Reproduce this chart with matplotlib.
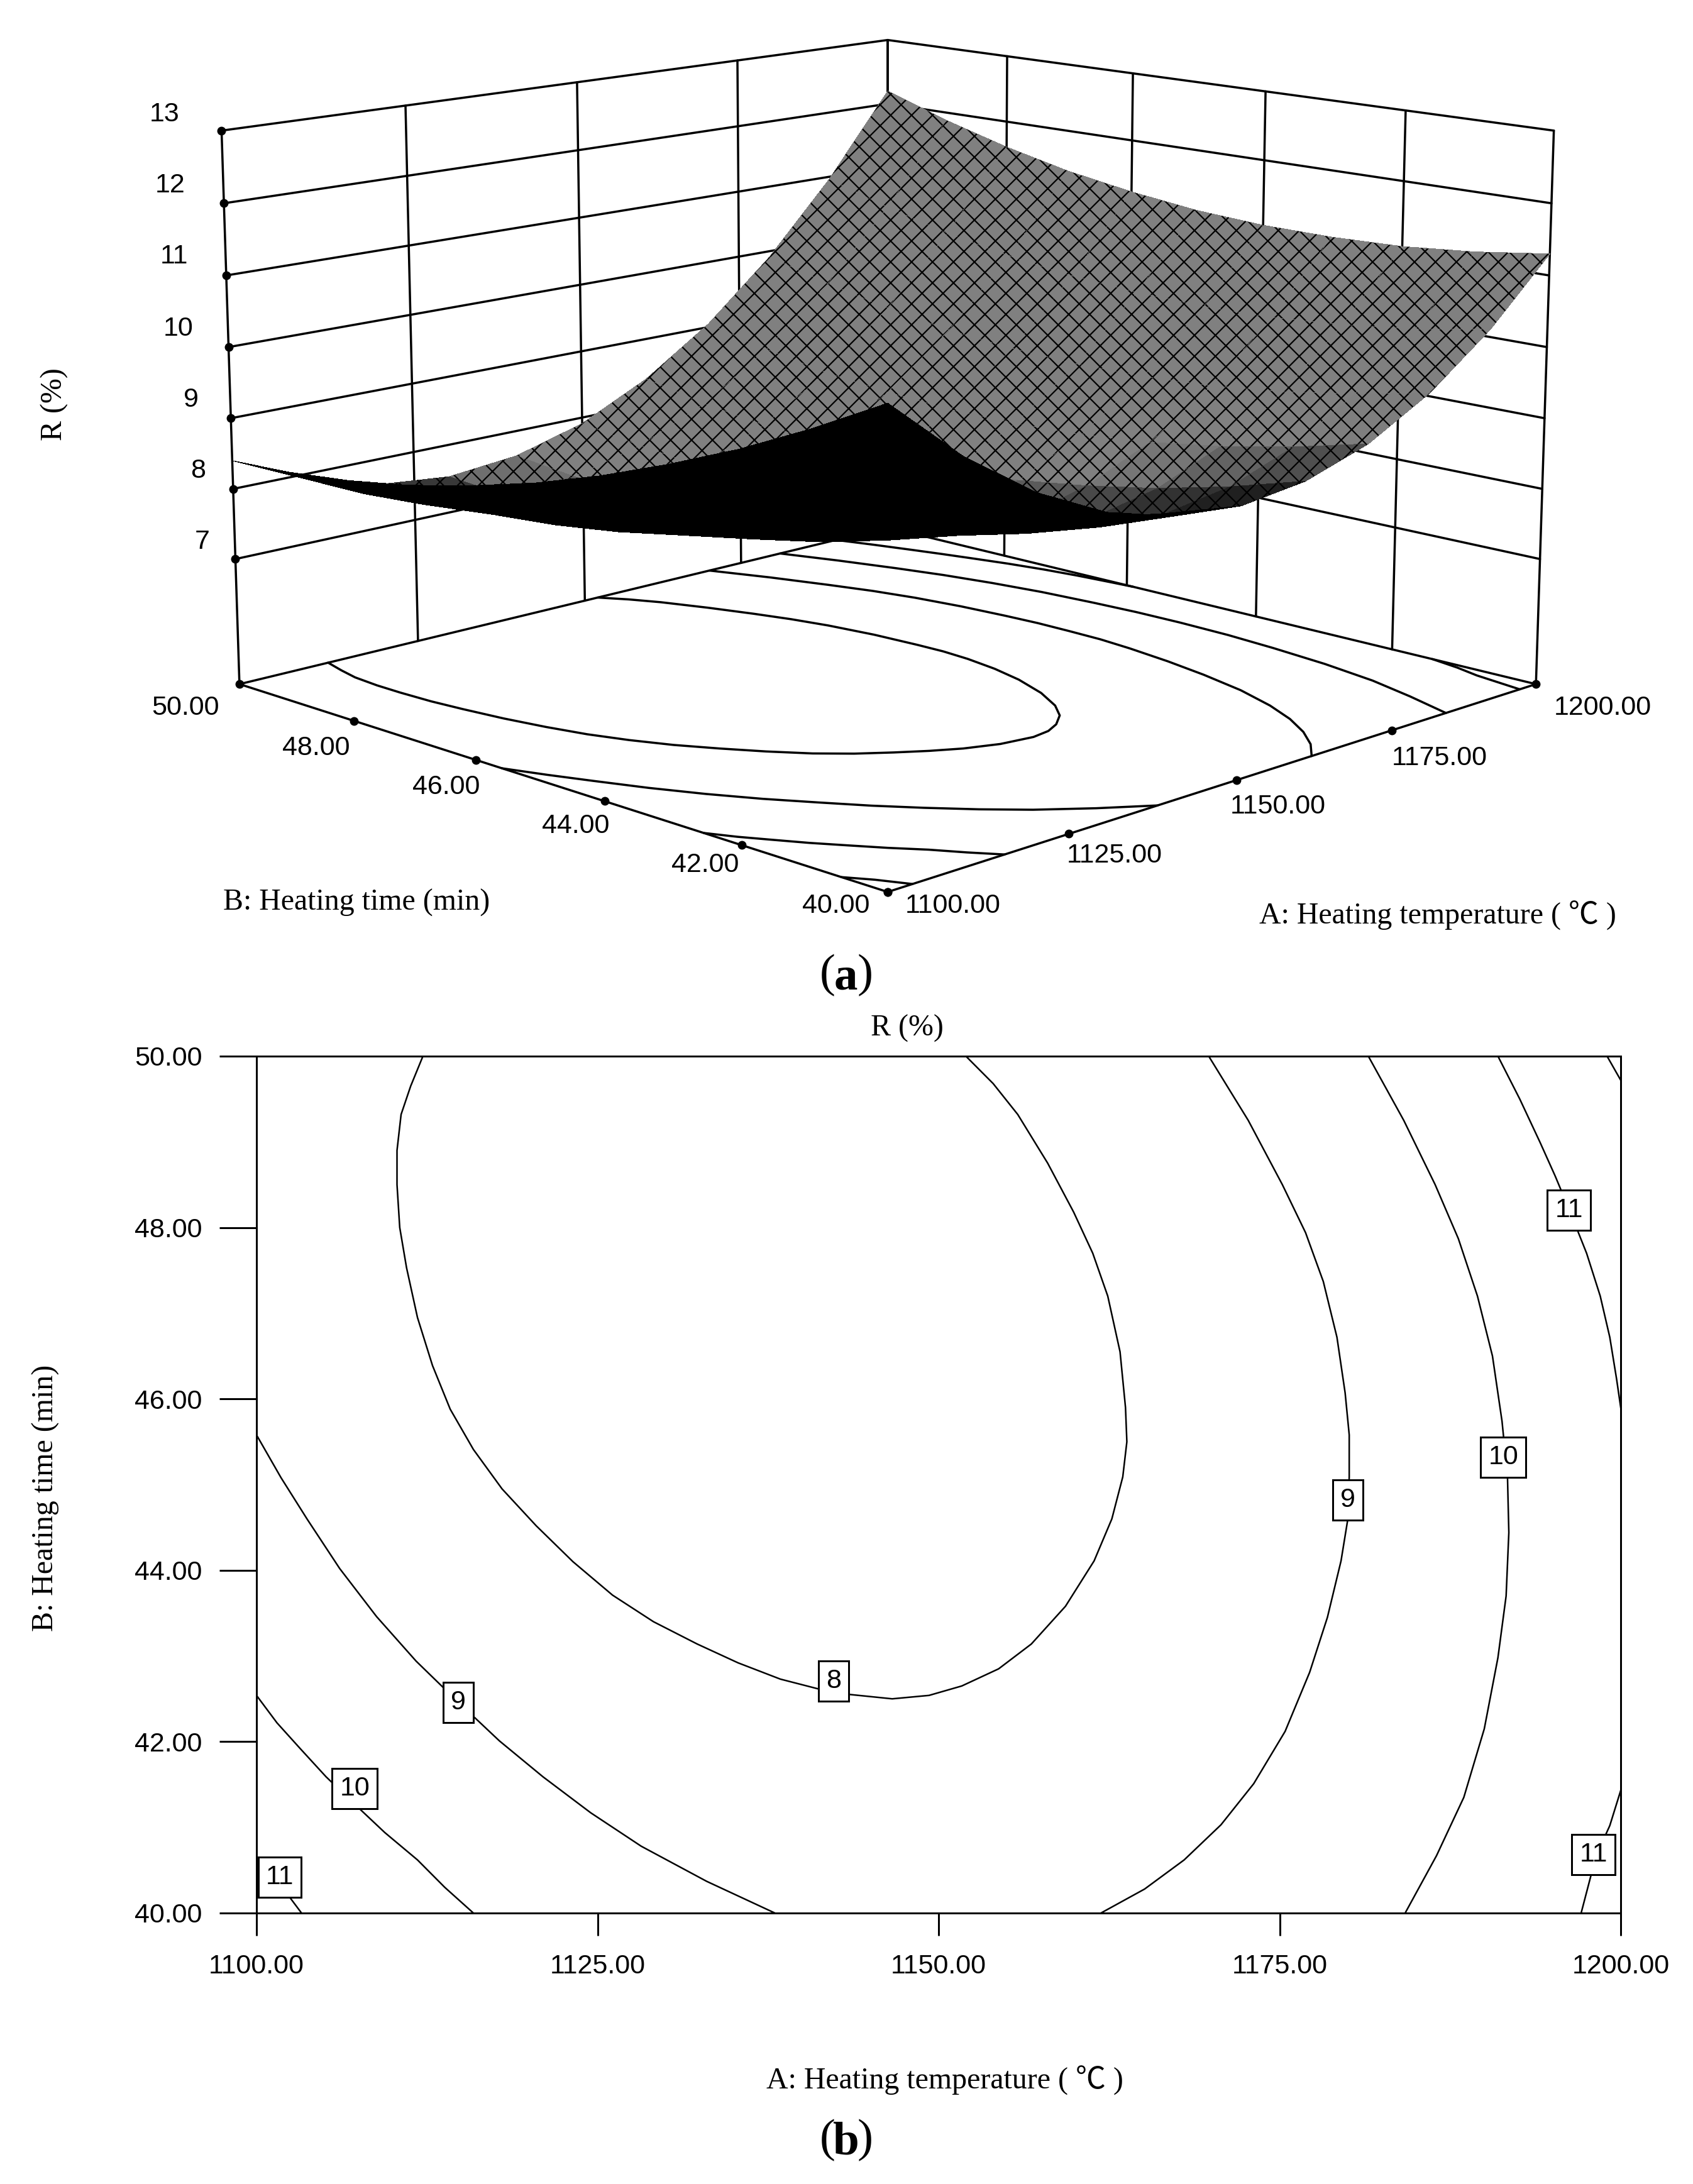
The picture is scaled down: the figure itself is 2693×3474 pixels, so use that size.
import numpy as np
import matplotlib
matplotlib.use("Agg")
from matplotlib import pyplot as plt

W, H = 2693, 3474

# response surface (rows: time, columns: temperature)
temps = [1100, 1110, 1120, 1130, 1140, 1150, 1160, 1170, 1180, 1190, 1200]
times = [40, 41, 42, 43, 44, 45, 46, 47, 48, 49, 50]
r_40 = [11.20, 10.35, 9.69, 9.22, 8.95, 8.86, 8.97, 9.26, 9.75, 10.43, 11.30]
r_41 = [10.69, 9.88, 9.25, 8.82, 8.58, 8.54, 8.68, 9.01, 9.54, 10.25, 11.16]
r_42 = [10.23, 9.45, 8.87, 8.47, 8.27, 8.26, 8.44, 8.81, 9.37, 10.13, 11.07]
r_43 = [9.83, 9.09, 8.54, 8.18, 8.02, 8.04, 8.26, 8.66, 9.26, 10.05, 11.04]
r_44 = [9.47, 8.76, 8.25, 7.93, 7.80, 7.87, 8.12, 8.56, 9.20, 10.03, 11.05]
r_45 = [9.16, 8.50, 8.02, 7.74, 7.65, 7.75, 8.04, 8.52, 9.19, 10.06, 11.11]
r_46 = [8.91, 8.28, 7.84, 7.59, 7.54, 7.68, 8.00, 8.52, 9.23, 10.13, 11.23]
r_47 = [8.70, 8.11, 7.71, 7.50, 7.48, 7.66, 8.02, 8.58, 9.32, 10.26, 11.39]
r_48 = [8.55, 8.00, 7.63, 7.46, 7.48, 7.69, 8.09, 8.68, 9.47, 10.44, 11.61]
r_49 = [8.45, 7.93, 7.61, 7.47, 7.53, 7.78, 8.21, 8.84, 9.67, 10.68, 11.88]
r_50 = [8.40, 7.92, 7.63, 7.53, 7.63, 7.91, 8.39, 9.05, 9.91, 10.96, 12.20]

# contour lines
c8_x = [1112.2, 1111.3, 1110.6, 1110.3, 1110.3, 1110.5, 1111.0, 1111.8, 1112.9, 1114.2, 1115.9, 1118.0, 1120.5,
        1123.2, 1126.1, 1129.1, 1132.3, 1135.3, 1138.4, 1142.3, 1146.6, 1149.3, 1151.7, 1154.4, 1156.8, 1159.3,
        1161.4, 1162.7, 1163.5, 1163.8, 1163.7, 1163.3, 1162.4, 1161.3, 1159.9, 1158.0, 1155.8, 1154.0, 1152.0]
c8_y = [50.00, 49.65, 49.32, 48.90, 48.50, 48.00, 47.53, 46.95, 46.39, 45.88, 45.41, 44.95, 44.52,
        44.10, 43.71, 43.40, 43.14, 42.92, 42.73, 42.57, 42.50, 42.54, 42.65, 42.85, 43.14, 43.58,
        44.11, 44.60, 45.09, 45.50, 45.90, 46.55, 47.20, 47.70, 48.18, 48.75, 49.32, 49.68, 50.00]
c9a_x = [1100.0, 1101.8, 1103.7, 1106.1, 1108.8, 1111.7, 1114.8, 1117.8, 1121.0, 1124.5, 1128.2, 1133.0, 1138.0]
c9a_y = [45.58, 45.08, 44.60, 44.02, 43.46, 42.94, 42.46, 42.01, 41.59, 41.17, 40.78, 40.37, 40.00]
c9b_x = [1161.9, 1165.1, 1168.0, 1170.7, 1173.1, 1175.4, 1177.2, 1178.5, 1179.5, 1180.0, 1180.1, 1180.1, 1179.8,
         1179.2, 1178.2, 1176.9, 1175.2, 1172.7, 1169.8]
c9b_y = [40.00, 40.28, 40.62, 41.03, 41.51, 42.12, 42.81, 43.45, 44.11, 44.60, 45.09, 45.58, 46.07,
         46.72, 47.37, 47.94, 48.50, 49.25, 50.00]
c10a_x = [1100.0, 1101.5, 1103.2, 1105.1, 1107.2, 1109.4, 1111.8, 1113.8, 1115.9]
c10a_y = [42.54, 42.22, 41.92, 41.59, 41.27, 40.94, 40.62, 40.30, 40.00]
c10b_x = [1184.2, 1186.5, 1188.5, 1190.0, 1191.0, 1191.6, 1191.8, 1191.7, 1191.3, 1190.6, 1189.5, 1188.1, 1186.4,
          1184.1, 1181.5]
c10b_y = [40.00, 40.67, 41.35, 42.15, 42.98, 43.70, 44.44, 45.10, 45.74, 46.50, 47.20, 47.87, 48.50, 49.25, 50.00]
c11a_x = [1100.0, 1101.7, 1103.3]
c11a_y = [40.62, 40.34, 40.00]
c11b_x = [1191.0, 1192.6, 1194.1, 1195.2, 1196.3, 1197.5, 1198.5, 1199.2, 1199.7, 1200.0]
c11b_y = [50.00, 49.50, 48.99, 48.60, 48.18, 47.70, 47.20, 46.72, 46.23, 45.90]
c11c_x = [1197.1, 1198.2, 1199.2, 1200.0]
c11c_y = [40.00, 40.67, 41.02, 41.43]
c12_x = [1199.0, 1200.0]
c12_y = [50.00, 49.72]

label_text = ["8", "9", "9", "10", "10", "11", "11", "11"]
label_x = [1142.3, 1114.8, 1180.0, 1107.2, 1191.4, 1101.7, 1196.2, 1198.0]
label_y = [42.71, 42.46, 44.82, 41.45, 45.32, 40.42, 48.20, 40.68]

x_ticks = [1100, 1125, 1150, 1175, 1200]
y_ticks = [40, 42, 44, 46, 48, 50]
z_ticks = [7, 8, 9, 10, 11, 12, 13]
z_floor = 5.2

contours = [(c8_x, c8_y), (c9a_x, c9a_y), (c9b_x, c9b_y), (c10a_x, c10a_y), (c10b_x, c10b_y),
            (c11a_x, c11a_y), (c11b_x, c11b_y), (c11c_x, c11c_y), (c12_x, c12_y)]

SANS = ["Liberation Sans", "DejaVu Sans"]
SERIF = ["Liberation Serif", "Noto Sans CJK SC", "DejaVu Sans"]
PX = 0.72  # points per pixel at dpi 100
K = 2.2165  # reference picture as I measured it to real pixels
plt.rcParams["hatch.color"] = "black"
plt.rcParams["hatch.linewidth"] = 1.6

fig = plt.figure(figsize=(W / 100, H / 100), dpi=100, facecolor="white")


def ptext(px, py, s, family=SANS, size=31, **kw):
    # place a text by its centre, in measured pixels
    fig.text(px * K / W, 1 - py * K / H, s, family=family, fontsize=size, ha="center", va="center", **kw)


# panel (a)
S = 2210
ELEV = 12.5
ax3 = fig.add_axes([(1412 - 0.5135 * S) / W, (H - 654 - 0.5135 * S) / H, S / W, S / H],
                   projection="3d", computed_zorder=False)
ax3.set_box_aspect((1, 1, 0.61), zoom=1.0)
ax3.set_proj_type("persp", focal_length=0.6)
ax3.view_init(elev=ELEV, azim=-135)
ax3.set_xlim(1100, 1200)
ax3.set_ylim(40, 50)
ax3.set_zlim(z_floor, 13)
ax3.set_axis_off()
ax3.patch.set_alpha(0)

x0, x1, y0, y1 = 1100, 1200, 40, 50
lw3 = 3.5 * PX


def line3(xs, ys, zs, z=1, lw=lw3):
    ax3.plot(xs, ys, zs, color="black", lw=lw, zorder=z, clip_on=False, solid_capstyle="round")


# walls
for zt in z_ticks:
    line3([x0, x1], [y1, y1], [zt, zt])
    line3([x1, x1], [y1, y0], [zt, zt])
for xt in x_ticks:
    line3([xt, xt], [y1, y1], [z_floor, 13])
for yt in y_ticks:
    line3([x1, x1], [yt, yt], [z_floor, 13])
# floor
line3([x0, x1], [y1, y1], [z_floor, z_floor])
line3([x1, x1], [y1, y0], [z_floor, z_floor])
line3([x0, x1], [y0, y0], [z_floor, z_floor], z=2)
line3([x0, x0], [y0, y1], [z_floor, z_floor], z=2)
for cx, cy in contours:
    line3(cx, cy, [z_floor] * len(cx), z=2)

# tick dots
ax3.plot([x0] * len(z_ticks), [y1] * len(z_ticks), z_ticks, "o", color="black", ms=9, zorder=2, clip_on=False)
ax3.plot(x_ticks, [y0] * len(x_ticks), [z_floor] * len(x_ticks), "o", color="black", ms=9, zorder=2, clip_on=False)
ax3.plot([x0] * len(y_ticks), y_ticks, [z_floor] * len(y_ticks), "o", color="black", ms=9, zorder=2, clip_on=False)

# surface
X, Y = np.meshgrid(temps, times)
Z = np.array([r_40, r_41, r_42, r_43, r_44, r_45, r_46, r_47, r_48, r_49, r_50])
zscale = 0.61 / (13 - z_floor)
nx = -(Z[:, 1:] - Z[:, :-1]) * 10 * zscale
ny = -(Z[1:, :] - Z[:-1, :]) * 10 * zscale
nx = 0.5 * (nx[1:, :] + nx[:-1, :])
ny = 0.5 * (ny[:, 1:] + ny[:, :-1])
ce, se = np.cos(np.deg2rad(ELEV)), np.sin(np.deg2rad(ELEV))
view = np.array([-0.7071 * ce, -0.7071 * ce, se])
dot = (nx * view[0] + ny * view[1] + view[2]) / np.sqrt(nx ** 2 + ny ** 2 + 1)
gray = 0.5 * np.clip((dot - 0.04) / 0.3, 0, 1)
fc = np.ones(Z.shape + (4,))
fc[:-1, :-1, 0] = gray
fc[:-1, :-1, 1] = gray
fc[:-1, :-1, 2] = gray
surf = ax3.plot_surface(X, Y, Z, rstride=1, cstride=1, facecolors=fc, shade=False,
                        linewidth=0, antialiased=False, zorder=3, hatch="x")
surf.set_clip_on(False)

for s, px, py in zip(["13", "12", "11", "10", "9", "8", "7"],
                     [118, 122, 125, 128, 137, 142, 145], [82, 133, 184, 236, 287, 338, 389]):
    ptext(px, py, s)
for s, px, py in zip(["50.00", "48.00", "46.00", "44.00", "42.00", "40.00"],
                     [133, 227, 320, 413, 506, 600], [508, 537, 565, 593, 621, 650]):
    ptext(px, py, s)
for s, px, py in zip(["1100.00", "1125.00", "1150.00", "1175.00", "1200.00"],
                     [684, 800, 917, 1033, 1150], [650, 614, 579, 544, 508]):
    ptext(px, py, s)
ptext(39, 290, "R (%)", family=SERIF, size=34.5, rotation=90)
ptext(256, 648, "B: Heating time (min)", family=SERIF, size=34.5)
ptext(1032, 657, "A: Heating temperature ( ℃ )", family=SERIF, size=34.5)
ptext(594, 700, "(", family=SERIF, size=54)
ptext(607, 702, "a", family=SERIF, size=54, weight="bold")
ptext(621, 700, ")", family=SERIF, size=54)

# panel (b)
ax = fig.add_axes([408 / W, (H - 3043) / H, (2578 - 408) / W, (3043 - 1680) / H])
for cx, cy in contours:
    ax.plot(cx, cy, color="black", lw=2.5 * PX, zorder=2)
ax.set_xlim(1100, 1200)
ax.set_ylim(40, 50)
ax.set_xticks(x_ticks, ["%.2f" % v for v in x_ticks], family=SANS, fontsize=31)
ax.set_yticks(y_ticks, ["%.2f" % v for v in y_ticks], family=SANS, fontsize=31)
ax.tick_params(axis="x", length=36 * PX, width=3 * PX, pad=21)
ax.tick_params(axis="y", length=59 * PX, width=3 * PX, pad=20)
for sp in ax.spines.values():
    sp.set_linewidth(3 * PX)
for s, lx, ly in zip(label_text, label_x, label_y):
    ax.text(lx, ly, s, family=SANS, fontsize=31, ha="center", va="center", zorder=3,
            bbox=dict(boxstyle="square,pad=0.28", fc="white", ec="black", lw=3 * PX))

ptext(651, 738, "R (%)", family=SERIF, size=34.5)
ptext(33, 1075, "B: Heating time (min)", family=SERIF, size=34.5, rotation=90)
ptext(678, 1493, "A: Heating temperature ( ℃ )", family=SERIF, size=34.5)
ptext(594, 1536, "(", family=SERIF, size=54)
ptext(607, 1538, "b", family=SERIF, size=54, weight="bold")
ptext(621, 1536, ")", family=SERIF, size=54)

fig.savefig("out.png", dpi=100, facecolor="white")
